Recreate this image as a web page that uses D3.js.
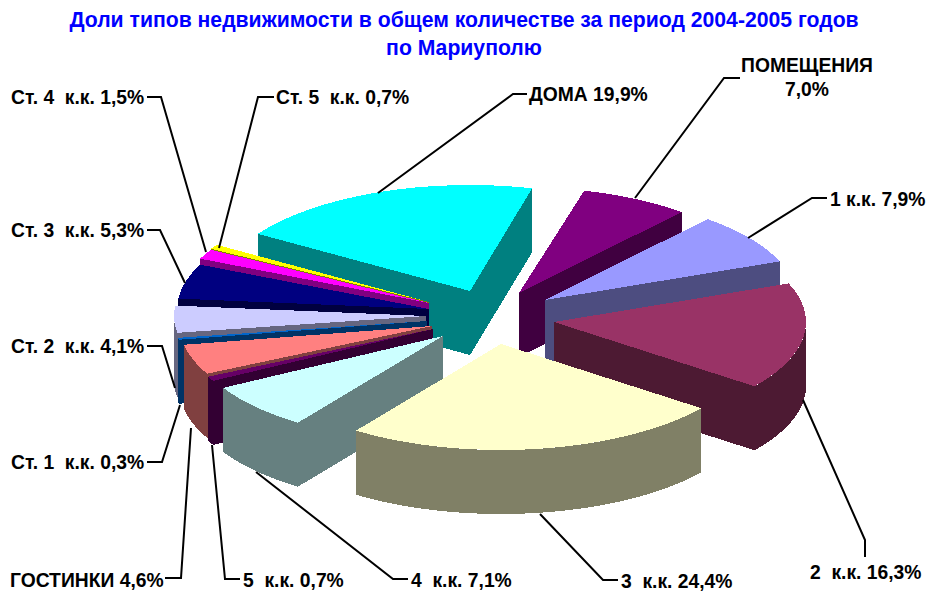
<!DOCTYPE html>
<html>
<head>
<meta charset="utf-8">
<script src="https://cdn.jsdelivr.net/npm/d3@7"></script>
<style>
  body { margin: 0; background: #fff; }
  svg { display: block; }
  text { font-family: "Liberation Sans", Arial, sans-serif; font-weight: bold; white-space: pre; }
</style>
</head>
<body>
<div id="chart"></div>
<script>
const titleLines = ["Доли типов недвижимости в общем количестве за период 2004-2005 годов", "по Мариуполю"];

const categories = ["ПОМЕЩЕНИЯ", "1 к.к.", "2  к.к.", "3  к.к.", "4  к.к.", "5  к.к.", "ГОСТИНКИ",
  "Ст. 1  к.к.", "Ст. 2  к.к.", "Ст. 3  к.к.", "Ст. 4  к.к.", "Ст. 5  к.к.", "ДОМА"];
const values = [7.0, 7.9, 16.3, 24.4, 7.1, 0.7, 4.6, 0.3, 4.1, 5.3, 1.5, 0.7, 19.9];
const colours = ["#800080", "#9999ff", "#993366", "#ffffcc", "#ccffff", "#660066", "#ff8080",
  "#0066cc", "#ccccff", "#000080", "#ff00ff", "#ffff00", "#00ffff"];

// where each exploded slice has its tip
const tips = [[519, 293], [545, 300], [554, 322], [501, 344], [443, 336], [433, 329], [432, 326],
  [427, 321], [426, 316], [429, 309], [429, 303], [429, 302], [470, 291]];

// back slices first, the big yellow one goes on top of everything
const drawOrder = [12, 0, 1, 2, 11, 10, 9, 8, 7, 6, 5, 4, 3];

const labelPos = [[807, 66], [830, 200], [810, 573], [621, 582], [411, 581], [243, 581], [10, 581],
  [11, 463], [11, 347], [11, 231], [11, 98], [276, 98], [529, 95]];

const leaders = [
  [[635, 198], [724, 78], [740, 78]],
  [[748, 238], [812, 198], [827, 198]],
  [[803, 400], [865, 540], [865, 557]],
  [[540, 514], [603, 580], [618, 580]],
  [[256, 472], [393, 579], [408, 579]],
  [[212, 445], [225, 579], [240, 579]],
  [[191, 428], [181, 578], [165, 578]],
  [[180, 405], [162, 462], [147, 462]],
  [[175, 388], [162, 346], [147, 346]],
  [[185, 283], [160, 230], [147, 230]],
  [[206, 252], [161, 97], [147, 97]],
  [[219, 248], [258, 97], [274, 97]],
  [[378, 193], [513, 94], [527, 94]]
];

const width = 931, height = 599;
const rx = 252, ry = 106, depth = 64;
const startAngle = 15 * Math.PI / 180;

const svg = d3.select("#chart").append("svg")
  .attr("width", width)
  .attr("height", height);

svg.selectAll("text.title")
  .data(titleLines)
  .enter()
  .append("text")
  .attr("class", "title")
  .attr("x", 464)
  .attr("y", (d, i) => 27 + i * 28)
  .attr("text-anchor", "middle")
  .attr("fill", "#0000ff")
  .attr("font-size", 21.2)
  .text(d => d);

// the printed percents add up to 99.8, so keep them as real percents of the circle
const pie = d3.pie()
  .sort(null)
  .startAngle(startAngle)
  .endAngle(startAngle + 2 * Math.PI * d3.sum(values) / 100);

const arcs = pie(values);

const arc = d3.arc().innerRadius(0).outerRadius(rx);

const darken = c => {
  const k = d3.rgb(c);
  return d3.rgb(k.r / 2, k.g / 2, k.b / 2).formatHex();
};

const edgePoint = (tip, a) => [tip[0] + rx * Math.sin(a), tip[1] - ry * Math.cos(a)];

const wall = (pts) => d3.line()(pts.concat(pts.slice().reverse().map(p => [p[0], p[1] + depth]))) + "Z";

const chart = svg.append("g").attr("shape-rendering", "crispEdges");

drawOrder.forEach(i => {

  const s = arcs[i];
  const tip = tips[i];
  const dark = darken(colours[i]);
  const slice = chart.append("g");

  // two cut faces
  [s.startAngle, s.endAngle].forEach(a => {
    slice.append("path")
      .attr("d", wall([tip, edgePoint(tip, a)]))
      .attr("fill", dark);
  });

  // the round outer face, only the part looking at the viewer
  const from = Math.max(s.startAngle, Math.PI / 2);
  const to = Math.min(s.endAngle, 3 * Math.PI / 2);
  if (to > from) {
    const pts = d3.range(0, 41).map(k => edgePoint(tip, from + (to - from) * k / 40));
    slice.append("path")
      .attr("d", wall(pts))
      .attr("fill", dark);
  }

  slice.append("path")
    .attr("d", arc(s))
    .attr("transform", `translate(${tip[0]},${tip[1]}) scale(1,${ry / rx})`)
    .attr("fill", colours[i]);

});

svg.append("g")
  .selectAll("path")
  .data(leaders)
  .enter()
  .append("path")
  .attr("d", d3.line())
  .attr("fill", "none")
  .attr("stroke", "#000")
  .attr("stroke-width", 2);

const labels = svg.append("g");

categories.forEach((name, i) => {

  const pct = values[i].toFixed(1).replace(".", ",") + "%";

  if (i == 0) {
    // this one is on two lines
    labels.append("text").attr("x", labelPos[i][0]).attr("y", labelPos[i][1] + 6)
      .attr("text-anchor", "middle").attr("font-size", 19.3).text(name);
    labels.append("text").attr("x", labelPos[i][0]).attr("y", labelPos[i][1] + 30)
      .attr("text-anchor", "middle").attr("font-size", 19.3).text(pct);
  } else {
    labels.append("text").attr("x", labelPos[i][0]).attr("y", labelPos[i][1] + 6)
      .attr("font-size", 19.3).text(name + " " + pct);
  }

});
</script>
</body>
</html>
